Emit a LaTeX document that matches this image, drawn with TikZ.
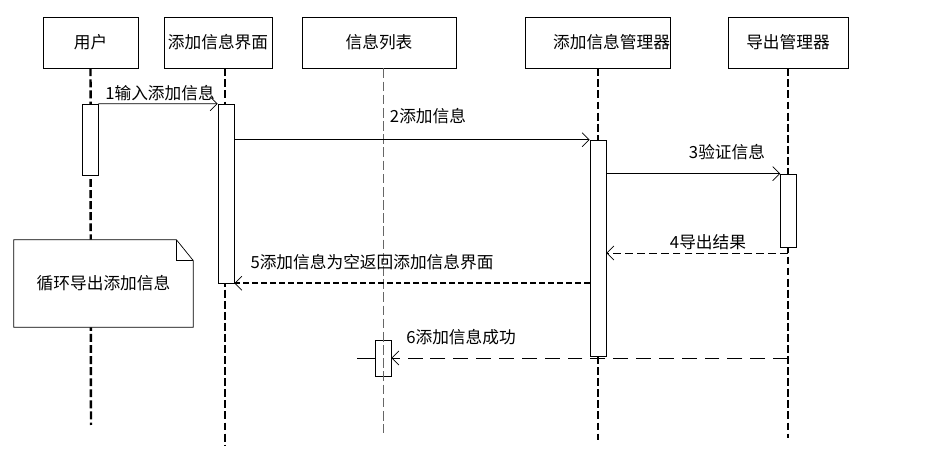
\documentclass[tikz,border=0pt]{standalone}
\usepackage{fontspec}
\setmainfont{Noto Sans CJK SC}
\usetikzlibrary{arrows.meta}

\begin{document}
\begin{tikzpicture}[x=0.02cm, y=-0.02cm, font=\fontsize{9.5}{11}\selectfont,
  tete/.style={draw, thin, minimum height=1.02cm, inner sep=0pt},
  activ/.style={draw, thin, fill=white, minimum width=0.32cm, inner sep=0pt},
  vie/.style={black, line width=1.4pt, dash pattern=on 4.5pt off 1.8pt},
  msg/.style={thin, -{Straight Barb[length=4pt, width=8pt, line width=0.4pt]}},
  retour/.style={msg, dash pattern=on 4.5pt off 2.3pt}]
  \useasboundingbox (0,0) rectangle (940,452);
  % Objets
  \node[tete, minimum width=1.9cm]  (h1) at (90.5,42.5)  {用户};
  \node[tete, minimum width=2.16cm] (h2) at (218,42.5)   {添加信息界面};
  \node[tete, minimum width=3.08cm] (h3) at (379,42.5)   {信息列表};
  \node[tete, minimum width=2.9cm, text width=2.9cm, align=right] (h4) at (597.5,42.5) {添加信息管理器};
  \node[tete, minimum width=2.4cm]  (h5) at (788,42.5)   {导出管理器};
  % Lignes de vie
  \draw[vie] (h1.south) -- (91,425);
  \draw[vie] (h2.south -| 225,0) -- (225,445);
  \draw[vie] (h4.south -| 598,0) -- (598,440);
  \draw[vie] (h5.south) -- (788,438);
  % Activations
  \node[activ, minimum height=1.42cm] (a1) at (90,139.5)   {};
  \node[activ, minimum height=3.58cm] (a2) at (226,193.5)  {};
  \node[activ, minimum height=4.32cm] (a4) at (598,248)    {};
  \node[activ, minimum height=1.46cm] (a5) at (788.5,210.5) {};
  \node[draw, thin, minimum width=0.32cm, minimum height=0.72cm, inner sep=0pt] (a3) at (383,358) {};
  \draw[gray!80!black, thin, dash pattern=on 5.5pt off 2pt] (h3.south -| a3) -- (383,433);
  \coordinate (bout) at (357,358);
  \draw[thin] (bout) -- (a3.west);
  % Note
  \node[minimum width=3.58cm, minimum height=1.74cm, inner sep=0pt] (note) at (103.5,283.5) {};
  \draw[thin, fill=white] (note.south west) -- (note.north west) -- ([xshift=-0.34cm]note.north east)
        -- ([yshift=-0.42cm]note.north east) -- (note.south east) -- cycle;
  \draw[thin] ([xshift=-0.34cm]note.north east) |- ([yshift=-0.42cm]note.north east);
  \node (nt) at (note) {循环导出添加信息};
  % Messages
  \draw[msg] (a1.north east) -- (a2.north west);
  \draw[msg] (a2.east |- a4.north) -- (a4.north west);
  \draw[msg] (a4.east |- a5.north) -- (a5.north west);
  \coordinate (r4) at (788,253);
  \draw[retour] (r4) -- (a4.east |- r4);
  \draw[msg, line width=1.1pt, dash pattern=on 3.4pt off 1.7pt] (a4.west |- a2.south) -- (a2.south east);
  \draw[msg, dash pattern=on 8.5pt off 4.5pt] (h5 |- a3.east) -- (a3.east);
  % Libelles
  \node (m1) at (160,93)  {1输入添加信息};
  \node (m2) at (428,116) {2添加信息};
  \node (m3) at (727,152) {3验证信息};
  \node (m4) at (708,242) {4导出结果};
  \node (m5) at (372,262) {5添加信息为空返回添加信息界面};
  \node (m6) at (461,337) {6添加信息成功};
\end{tikzpicture}
\end{document}
